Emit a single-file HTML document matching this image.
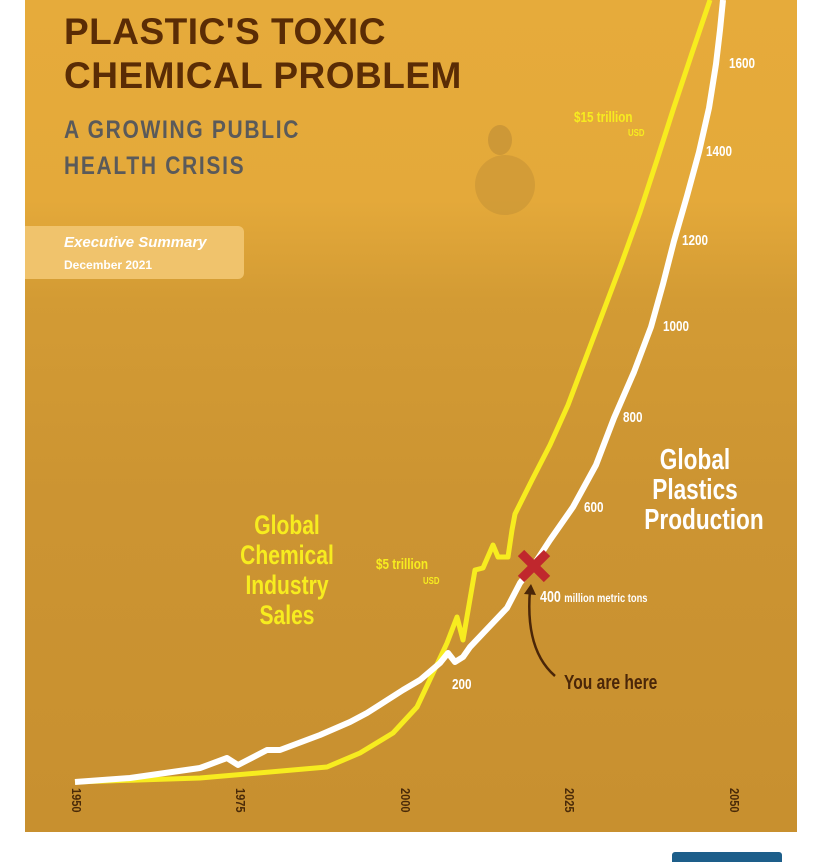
<!DOCTYPE html>
<html><head><meta charset="utf-8"><style>
body{margin:0;width:820px;height:860px;background:#fff;position:relative;overflow:hidden;font-family:"Liberation Sans",sans-serif}
#p{position:absolute;left:25px;top:0;width:772px;height:832px;background:linear-gradient(180deg,#e6ab3b 0,#e4a93a 200px,#d39b34 300px,#cc9432 500px,#c8902f 832px)}
.t{position:absolute;font-weight:bold;white-space:nowrap}
.n{transform:scaleX(0.78);transform-origin:0 0}
.nc{transform:scaleX(0.78);transform-origin:50% 0}
</style></head><body>
<div id="p"></div>
<svg style="position:absolute;left:0;top:0" width="820" height="860">
<circle cx="505" cy="185" r="30" fill="#b98a34" opacity=".4"/>
<ellipse cx="500" cy="140" rx="12" ry="15" fill="#b58633" opacity=".5"/>
<polyline fill="none" stroke="#f7ec1f" stroke-width="5" stroke-linejoin="round" points="75,782 200,778 327,767 360,753 393,733 417,707 433,673 447,643 457,617 463,640 475,570 483,568 493,545 498,557 508,557 512,530 515,514 532,480 550,445 568,405 585,360 602,315 622,262 640,212 657,160 674,107 692,53 710,0"/>
<polyline fill="none" stroke="#fff" stroke-width="6" stroke-linejoin="round" points="75,782 130,778 200,768 227,758 238,765 267,750 280,750 320,735 350,722 367,713 403,690 420,680 440,663 448,653 455,662 463,657 470,647 507,608 520,583 533,566 550,540 573,507 596,465 614,418 634,372 651,327 663,284 674,241 687,196 699,152 709,108 716,64 720,30 723,0"/>
<path d="M521 553 L547 579 M547 553 L521 579" stroke="#c0272d" stroke-width="9"/>
<path d="M555 676 Q525 650 530 590" fill="none" stroke="#4a2608" stroke-width="2.5"/>
<path d="M524 594 L531 584 L536 595 Z" fill="#4a2608"/>
<g font-family="Liberation Sans,sans-serif" font-weight="bold" fill="#4a2a08" font-size="13">
<text transform="translate(72,788) rotate(90) scale(0.85,1)">1950</text>
<text transform="translate(236,788) rotate(90) scale(0.85,1)">1975</text>
<text transform="translate(401,788) rotate(90) scale(0.85,1)">2000</text>
<text transform="translate(565,788) rotate(90) scale(0.85,1)">2025</text>
<text transform="translate(730,788) rotate(90) scale(0.85,1)">2050</text>
</g>
</svg>
<div class="t" style="left:64px;top:10px;font-size:37px;line-height:44px;color:#5a2c05;letter-spacing:0.5px">PLASTIC'S TOXIC<br>CHEMICAL PROBLEM</div>
<div class="t" style="left:64px;top:112px;font-size:25px;line-height:36px;color:#5a5a5a;letter-spacing:2px;transform:scaleX(0.84);transform-origin:0 0">A GROWING PUBLIC<br>HEALTH CRISIS</div>
<div style="position:absolute;left:25px;top:226px;width:219px;height:53px;background:#f0c36c;border-radius:0 6px 6px 0"></div>
<div class="t" style="left:64px;top:234px;font-size:15px;color:#fff;font-style:italic">Executive Summary</div>
<div class="t" style="left:64px;top:258px;font-size:12px;color:#fff">December 2021</div>
<div class="t nc" style="left:222px;top:510px;width:130px;text-align:center;font-size:27px;line-height:30px;color:#f7ec1f">Global<br>Chemical<br>Industry<br>Sales</div>
<div class="t nc" style="left:630px;top:445px;width:130px;text-align:center;font-size:29px;line-height:30px;color:#fff">Global<br>Plastics<br>Production</div>
<div class="t n" style="left:376px;top:556px;font-size:15px;color:#f7ec1f">$5 trillion</div>
<div class="t n" style="left:423px;top:576px;font-size:10px;color:#f7ec1f">USD</div>
<div class="t n" style="left:574px;top:109px;font-size:15px;color:#f7ec1f">$15 trillion</div>
<div class="t n" style="left:628px;top:128px;font-size:10px;color:#f7ec1f">USD</div>
<div class="t n" style="left:540px;top:589px;font-size:16px;color:#fff">400 <span style="font-size:12px">million metric tons</span></div>
<div class="t n" style="left:564px;top:672px;font-size:20px;color:#4a2608">You are here</div>
<div class="t n" style="left:452px;top:676px;font-size:15px;color:#fff">200</div>
<div class="t n" style="left:584px;top:499px;font-size:15px;color:#fff">600</div>
<div class="t n" style="left:623px;top:409px;font-size:15px;color:#fff">800</div>
<div class="t n" style="left:663px;top:318px;font-size:15px;color:#fff">1000</div>
<div class="t n" style="left:682px;top:232px;font-size:15px;color:#fff">1200</div>
<div class="t n" style="left:706px;top:143px;font-size:15px;color:#fff">1400</div>
<div class="t n" style="left:729px;top:55px;font-size:15px;color:#fff">1600</div>
<div style="position:absolute;left:672px;top:852px;width:110px;height:10px;background:#1d5e8a;border-radius:3px 3px 0 0"></div>
</body></html>
